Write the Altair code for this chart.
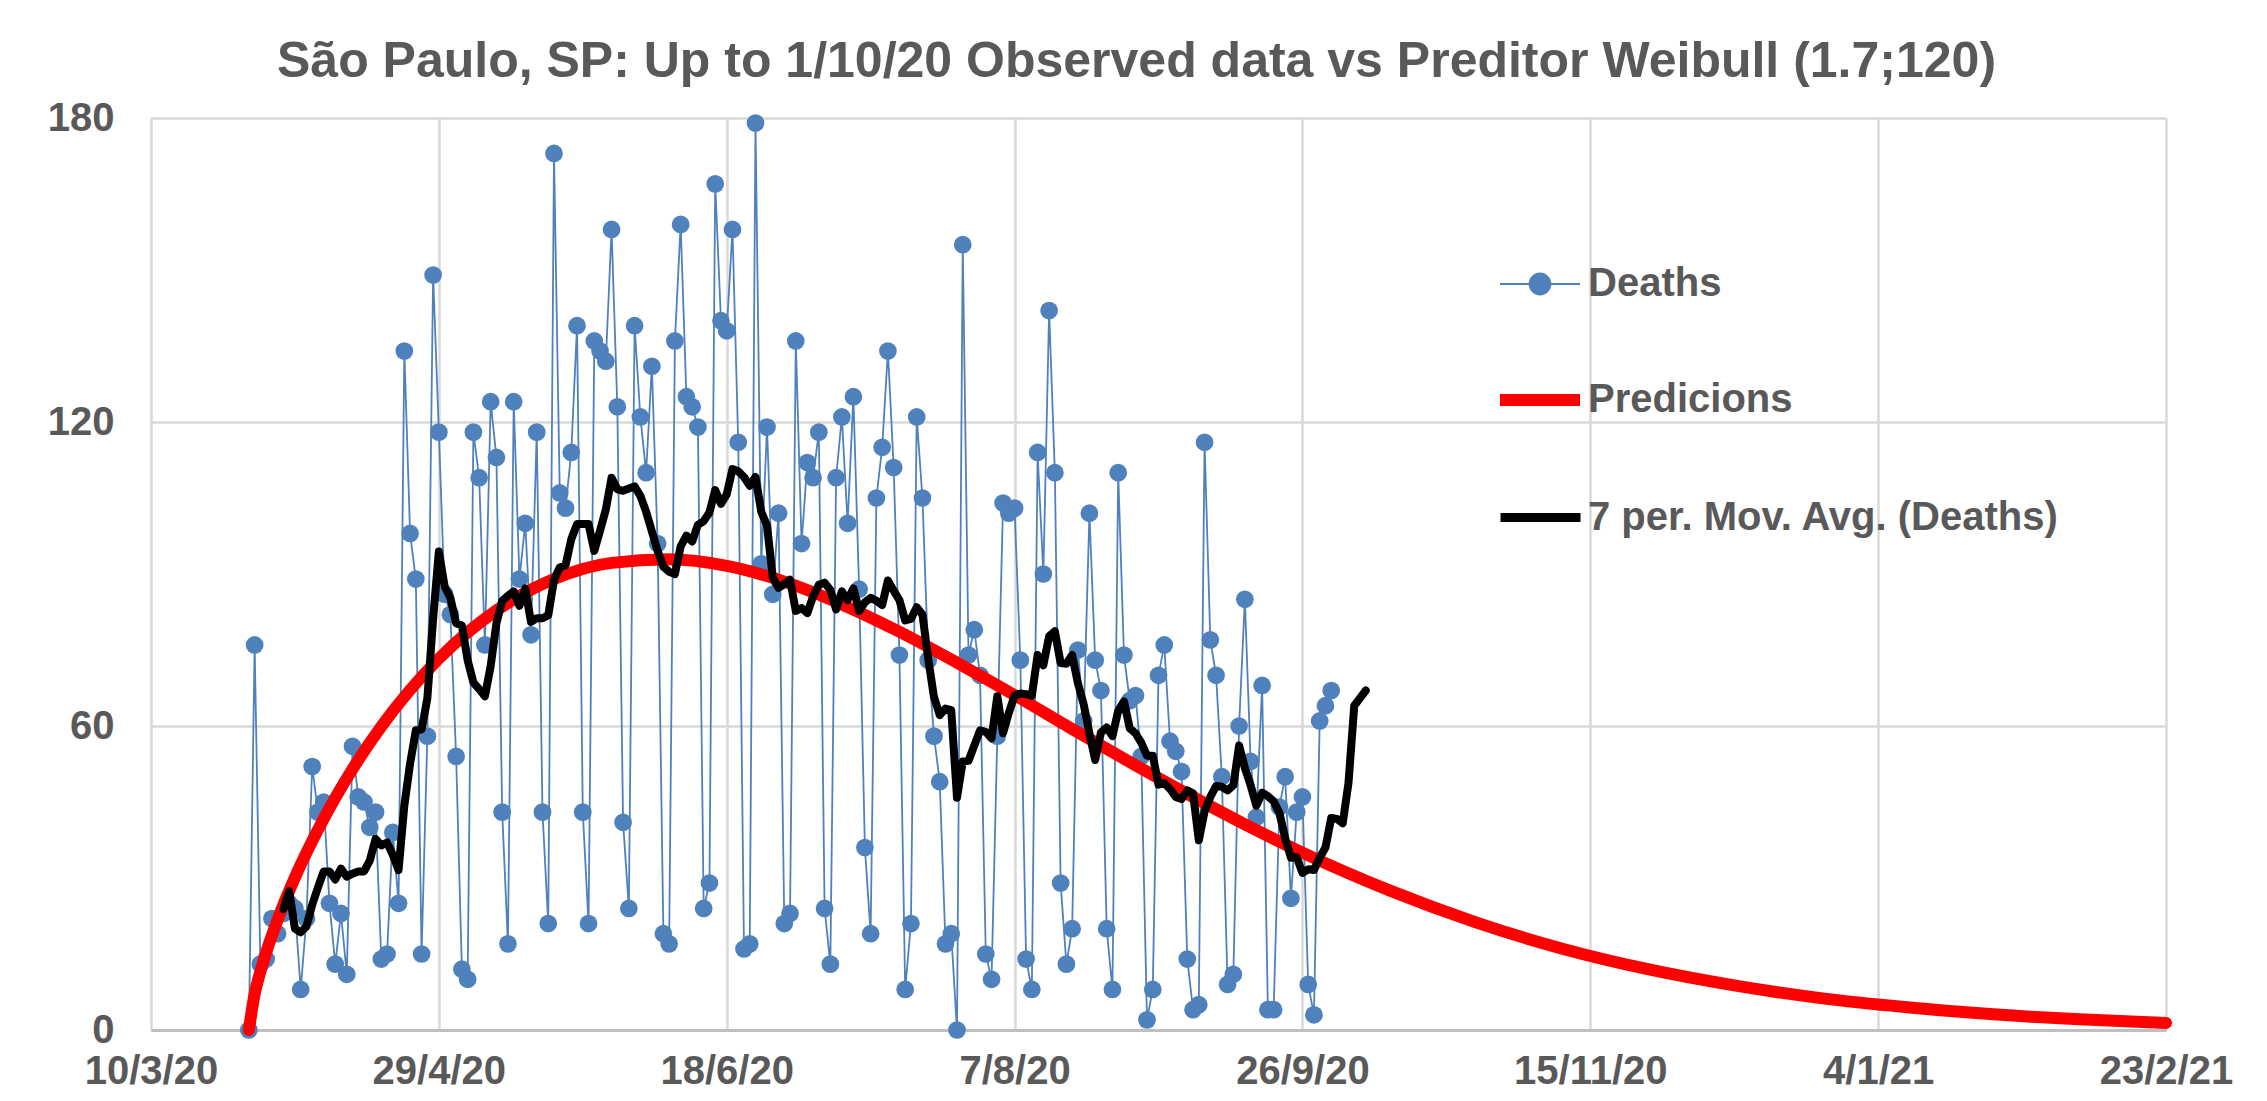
import altair as alt
import pandas as pd

title_text = "São Paulo, SP: Up to 1/10/20 Observed data vs Preditor Weibull (1.7;120)"
series_names = ["Deaths", "Predicions", "7 per. Mov. Avg. (Deaths)"]
series_colors = ["#4f81bd", "#ff0000", "#000000"]

first_date = "2020-03-27"
deaths = [
    0, 76, 13, 14, 22, 19, 23, 25, 24, 8,
    22, 52, 43, 45, 25, 13, 23, 11, 56, 46,
    45, 40, 43, 14, 15, 39, 25, 134, 98, 89,
    15, 58, 149, 118, 86, 82, 54, 12, 10, 118,
    109, 76, 124, 113, 43, 17, 124, 89, 100, 78,
    118, 43, 21, 173, 106, 103, 114, 139, 43, 21,
    136, 134, 132, 158, 123, 41, 24, 139, 121, 110,
    131, 96, 19, 17, 136, 159, 125, 123, 119, 24,
    29, 167, 140, 138, 158, 116, 16, 17, 179, 92,
    119, 86, 102, 21, 23, 136, 96, 112, 109, 118,
    24, 13, 109, 121, 100, 125, 87, 36, 19, 105,
    115, 134, 111, 74, 8, 21, 121, 105, 73, 58,
    49, 17, 19, 0, 155, 74, 79, 70, 15, 10,
    58, 104, 102, 103, 73, 14, 8, 114, 90, 142,
    110, 29, 13, 20, 75, 61, 102, 73, 67, 20,
    8, 110, 74, 65, 66, 54, 2, 8, 70, 76,
    57, 55, 51, 14, 4, 5, 116, 77, 70, 50,
    9, 11, 60, 85, 53, 42, 68, 4, 4, 44,
    50, 26, 43, 46, 9, 3, 61, 64, 67,
]

pred_dates = [
    "2020-03-27", "2020-03-28", "2020-03-29", "2020-03-30", "2020-04-01",
    "2020-04-04", "2020-04-09", "2020-04-14", "2020-04-19", "2020-04-29",
    "2020-05-09", "2020-05-19", "2020-05-29", "2020-06-08", "2020-06-18",
    "2020-06-28", "2020-07-08", "2020-07-18", "2020-07-28", "2020-08-07",
    "2020-08-17", "2020-08-27", "2020-09-06", "2020-09-16", "2020-09-26",
    "2020-10-11", "2020-10-26", "2020-11-10", "2020-11-25", "2020-12-10",
    "2020-12-25", "2021-01-09", "2021-01-24", "2021-02-08", "2021-02-23",
]
pred_values = [
    0, 7.1, 11.5, 15.3, 21.8,
    30.1, 41.7, 51.5, 59.9, 73.3,
    82.8, 89.0, 92.2, 92.9, 91.6,
    88.5, 84.0, 78.6, 72.5, 66.1,
    59.4, 52.9, 46.6, 40.6, 35.0,
    27.6, 21.3, 16.1, 12.0, 8.8,
    6.3, 4.5, 3.1, 2.1, 1.4,
]

x_start, x_end = "2020-03-10", "2021-02-23"
tick_dates = ["2020-03-10", "2020-04-29", "2020-06-18", "2020-08-07",
              "2020-09-26", "2020-11-15", "2021-01-04", "2021-02-23"]
y_ticks = [0, 60, 120, 180]


def ms(d):
    return int(pd.Timestamp(d, tz="UTC").timestamp() * 1000)


# tables
dates = pd.date_range(first_date, periods=len(deaths), freq="D")
df_deaths = pd.DataFrame({"date": dates.strftime("%Y-%m-%d"), "value": deaths,
                          "series": series_names[0]})
df_pred = pd.DataFrame({"date": pred_dates, "value": pred_values,
                        "series": series_names[1]})
# 7-period moving average trendline (blank cells ignored, as the spreadsheet does)
s = pd.Series(deaths, index=dates, dtype=float)
ext = s.reindex(pd.date_range(first_date, periods=len(deaths) + 6, freq="D"))
ma = ext.rolling(7, min_periods=1).mean().iloc[6:]
df_ma = pd.DataFrame({"date": ma.index.strftime("%Y-%m-%d"), "value": ma.values.round(3),
                      "series": series_names[2]})

FONT = "Liberation Sans"
GREY = "#595959"

x_enc = alt.X(
    "date:T",
    scale=alt.Scale(type="utc", domain=[ms(x_start), ms(x_end)]),
    axis=alt.Axis(
        values=[ms(d) for d in tick_dates], format="%-d/%-m/%y", title=None,
        labelFont=FONT, labelFontSize=40, labelFontWeight="bold", labelColor=GREY,
        labelPadding=21, ticks=False, grid=True, gridColor="#d9d9d9", gridWidth=2.5,
        domain=True, domainColor="#bfbfbf", domainWidth=3,
        labelFlush=False, labelOverlap=False,
    ),
)
y_enc = alt.Y(
    "value:Q",
    scale=alt.Scale(domain=[0, 180], nice=False, zero=True),
    axis=alt.Axis(
        values=y_ticks, title=None, labelFont=FONT, labelFontSize=40,
        labelFontWeight="bold", labelColor=GREY, labelPadding=37, ticks=False,
        grid=True, gridColor="#d9d9d9", gridWidth=2.5, domain=False,
    ),
)


def legend(x, y, symbol, size, width, offset, stroke_color=None):
    kw = dict(
        title=None, orient="none", legendX=x, legendY=y, padding=0,
        symbolType=symbol, symbolSize=size, symbolStrokeWidth=width,
        labelFont=FONT, labelFontSize=40, labelFontWeight="bold", labelColor=GREY,
        labelOffset=offset, labelLimit=800,
    )
    if stroke_color:
        kw["symbolStrokeColor"] = stroke_color
    return alt.Legend(**kw)


deaths_symbol = ("M-1,0L-0.26,0M0.26,0L1,0M-0.26,0A0.26,0.26,0,1,0,0.26,0"
                 "A0.26,0.26,0,1,0,-0.26,0Z")

deaths_line = alt.Chart(df_deaths).mark_line(color=series_colors[0], strokeWidth=1.8).encode(
    x=x_enc, y=y_enc
)
deaths_points = alt.Chart(df_deaths).mark_point(filled=True, size=314, opacity=1).encode(
    x=x_enc, y=y_enc,
    color=alt.Color("series:N",
                    scale=alt.Scale(domain=[series_names[0]], range=[series_colors[0]]),
                    legend=legend(1348, 125, deaths_symbol, 6400, 2, 7, series_colors[0])),
)
pred_line = alt.Chart(df_pred).mark_line(strokeWidth=12, strokeCap="round", strokeJoin="round",
                                         interpolate="monotone").encode(
    x=x_enc, y=y_enc,
    color=alt.Color("series:N",
                    scale=alt.Scale(domain=[series_names[1]], range=[series_colors[1]]),
                    legend=legend(1343, 236, "stroke", 6400, 12, 2)),
)
ma_line = alt.Chart(df_ma).mark_line(strokeWidth=8, strokeJoin="round", strokeCap="round").encode(
    x=x_enc, y=y_enc,
    color=alt.Color("series:N",
                    scale=alt.Scale(domain=[series_names[2]], range=[series_colors[2]]),
                    legend=legend(1345, 355, "stroke", 6400, 9, 3)),
)

chart = (
    alt.layer(deaths_line, deaths_points, pred_line, ma_line)
    .resolve_scale(color="independent")
    .properties(
        width=2015, height=912,
        padding={"left": 143, "top": 110, "right": 80, "bottom": 63},
        autosize=alt.AutoSizeParams(type="none"),
        title=alt.TitleParams(title_text, font=FONT, fontSize=50, fontWeight="bold",
                              color=GREY, anchor="middle", dx=-22, dy=65, offset=36,
                              baseline="alphabetic"),
    )
    .configure_view(stroke=None)
    .configure(background="white")
)

chart.save("out.html", embed_options={"renderer": "svg", "actions": False})
